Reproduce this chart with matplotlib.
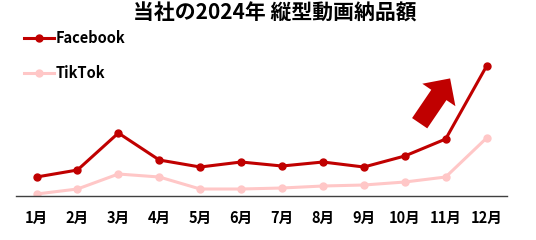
import matplotlib
matplotlib.use("Agg")
import matplotlib.pyplot as plt

plt.rcParams['font.family'] = ['Noto Sans CJK JP', 'DejaVu Sans']

# Data
months = ["1月", "2月", "3月", "4月", "5月", "6月", "7月", "8月", "9月", "10月", "11月", "12月"]
facebook = [19, 26, 63, 36, 29, 34, 30, 34, 29, 40, 57, 130]
tiktok = [2, 7, 22, 19, 7, 7, 8, 10, 11, 14, 19, 58]

FB_COLOR = "#C00000"
TT_COLOR = "#FFC7C7"

fig = plt.figure(figsize=(5.36, 2.4), dpi=100)
ax = fig.add_axes([0.03, 0.1833, 0.916, 0.5833])

x = list(range(1, len(months) + 1))
ax.plot(x, tiktok, color=TT_COLOR, lw=2.2, marker="o", ms=5, label="TikTok", zorder=2)
ax.plot(x, facebook, color=FB_COLOR, lw=2.2, marker="o", ms=5, label="Facebook", zorder=3)

ax.set_xlim(0.5, 12.5)
ax.set_ylim(0, 140)
ax.set_xticks(x)
ax.set_xticklabels(months, fontsize=10.5, fontweight="bold")
ax.tick_params(axis="x", length=0, pad=10)
ax.set_yticks([])
for s in ["top", "right", "left"]:
    ax.spines[s].set_visible(False)
ax.spines["bottom"].set_color("#404040")
ax.spines["bottom"].set_linewidth(1.0)

# Big upward arrow
ax.annotate("", xy=(0.884, 0.84), xytext=(0.822, 0.52), xycoords="axes fraction",
            arrowprops=dict(arrowstyle="simple,head_length=0.6,head_width=1.2,tail_width=0.55",
                            color=FB_COLOR, mutation_scale=24, lw=0,
                            shrinkA=0, shrinkB=0))

fig.suptitle("当社の2024年 縦型動画納品額", x=0.513, y=0.99, fontsize=15, fontweight="bold")

handles, labels = ax.get_legend_handles_labels()
leg = fig.legend(handles[::-1], labels[::-1], loc="upper left", bbox_to_anchor=(0.02, 0.93),
                 frameon=False, handlelength=2.1, handletextpad=0.1, labelspacing=1.3,
                 prop={"size": 10.5, "weight": "bold"})

fig.savefig("out.png", dpi=100)
